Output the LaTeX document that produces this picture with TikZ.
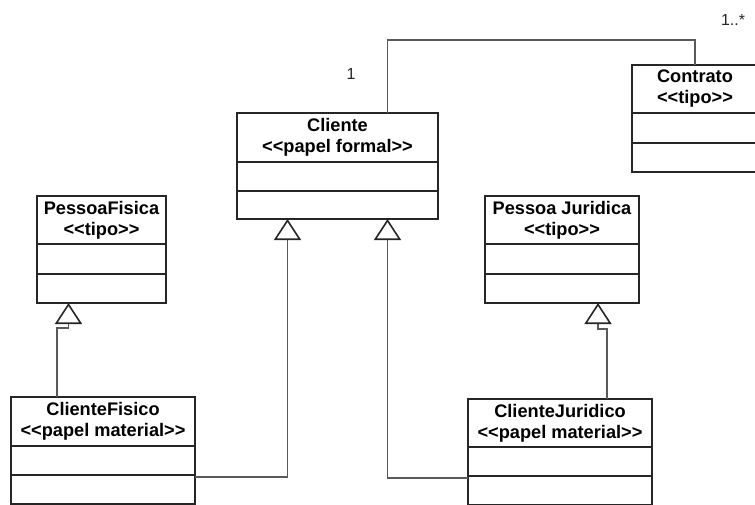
\documentclass[tikz,border=0pt]{standalone}
\usepackage{fontspec}
\setmainfont{Liberation Sans}
\usetikzlibrary{arrows.meta,calc}

\definecolor{boxcol}{HTML}{262626}
\definecolor{linecol}{HTML}{5A5A5A}

\tikzset{
  classbox/.style={draw=boxcol, line width=1.8pt, fill=white, inner sep=0pt, outer sep=0pt},
  compline/.style={draw=boxcol, line width=1.8pt},
  classtitle/.style={font=\bfseries\fontsize{18.2}{21}\selectfont, align=center, inner sep=0pt, text=black},
  mult/.style={font=\fontsize{16}{19}\selectfont, inner sep=0pt, text=boxcol},
  conn/.style={draw=linecol, line width=1.2pt},
  gen/.style={conn, -{Triangle[open, length=21pt, width=27pt, line width=1.6pt, color=boxcol]}},
}

% stereotype brackets without guillemet ligatures
\newcommand{\stype}[1]{<{}<#1>{}>}

% UML class: name, left, top, width, height, 1st divider, 2nd divider, title
\newcommand{\umlclassbox}[8]{%
  \node[classbox, anchor=north west, minimum width=#4pt, minimum height=#5pt] (#1) at (#2,#3) {};
  \draw[compline] ([yshift=-#6pt]#1.north west) -- ([yshift=-#6pt]#1.north east);
  \draw[compline] ([yshift=-#7pt]#1.north west) -- ([yshift=-#7pt]#1.north east);
  \node[classtitle] (#1-title) at ([yshift=-#6pt/2]#1.north) {#8};
}

\begin{document}
\begin{tikzpicture}[x=1pt, y=-1pt]
  \clip (0,0) rectangle (755,504);
  \fill[white] (0,0) rectangle (755,504);

  % classes
  \umlclassbox{cliente}{237}{113}{201}{106}{49}{78}{Cliente\\\stype{papel formal}}
  \umlclassbox{contrato}{632}{65}{126}{107}{48}{78}{Contrato\\\stype{tipo}}
  \umlclassbox{pessoafisica}{37}{196}{129}{107}{48}{78}{PessoaFisica\\\stype{tipo}}
  \umlclassbox{pessoajuridica}{485}{196}{154}{107}{48}{78}{Pessoa Juridica\\\stype{tipo}}
  \umlclassbox{clientefisico}{11}{397}{184}{107}{49}{78}{ClienteFisico\\\stype{papel material}}
  \umlclassbox{clientejuridico}{468}{399}{184}{106}{48}{77}{ClienteJuridico\\\stype{papel material}}

  % association Cliente -- Contrato
  \draw[conn] ([xshift=50pt]cliente.north) |- ([yshift=25pt]contrato.north) -- (contrato.north);
  \node[mult] (mult-cliente) at (351,74) {1};
  \node[mult] (mult-contrato) at (733,20) {1..*};

  % generalizations
  \draw[gen] ([yshift=-80pt]clientefisico.north east) -| ([xshift=-50pt]cliente.south);
  \draw[gen] ([yshift=-79pt]clientejuridico.north west) -| ([xshift=50pt]cliente.south);
  \draw[gen] ([xshift=-46pt]clientefisico.north) |- ([xshift=-33pt,yshift=-25pt]pessoafisica.south) -- ([xshift=-33pt]pessoafisica.south);
  \draw[gen] ([xshift=47pt]clientejuridico.north) |- ([xshift=36pt,yshift=-26pt]pessoajuridica.south) -- ([xshift=36pt]pessoajuridica.south);
\end{tikzpicture}
\end{document}
